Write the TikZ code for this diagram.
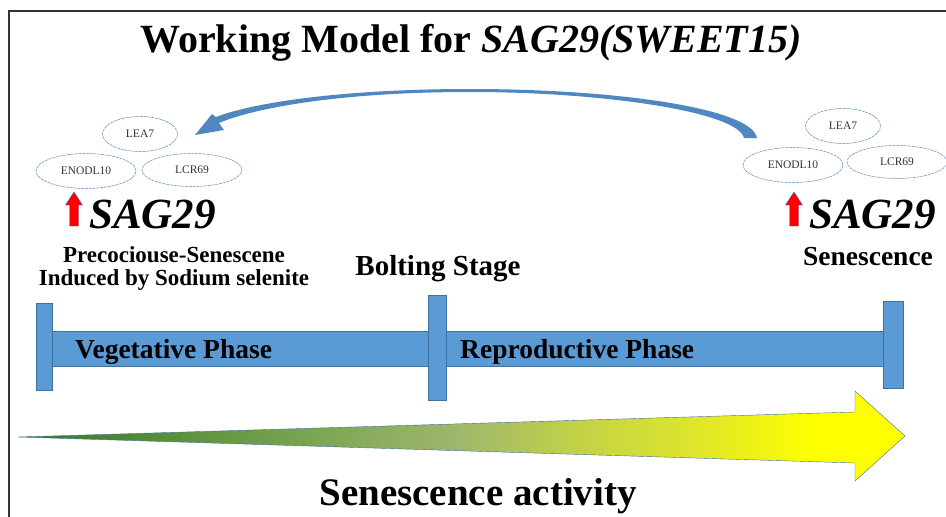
\documentclass[tikz,border=0pt]{standalone}
\usepackage{fontspec}
\setmainfont{Liberation Serif}
\usetikzlibrary{positioning,arrows.meta,shapes.geometric}
\definecolor{Bar}{HTML}{5B9BD5}
\definecolor{BarEdge}{HTML}{41719C}
\definecolor{Ring}{HTML}{5B87B9}
\definecolor{Curve}{HTML}{4F87C1}
\definecolor{Frame}{HTML}{333333}
\definecolor{Leaf}{HTML}{3A7A26}
\definecolor{Moss}{HTML}{78A450}
\definecolor{Olive}{HTML}{A0B86C}
\definecolor{Lime}{HTML}{C4D444}
\definecolor{Citron}{HTML}{DDE52C}
\definecolor{Sun}{HTML}{FFFF00}
\pgfdeclarehorizontalshading{ripen}{100bp}{color(0bp)=(Leaf); color(26bp)=(Leaf); color(41bp)=(Moss); color(50bp)=(Olive); color(57bp)=(Lime); color(63bp)=(Citron); color(70bp)=(Sun); color(100bp)=(Sun)}

\begin{document}
\begin{tikzpicture}[x=1pt,y=-1pt, every node/.style={font=\bfseries}]
\tikzstyle{gene}=[ellipse,draw=Ring,line width=.5pt,dash pattern=on 3pt off .8pt,minimum height=35pt,inner sep=0pt,font=\fontsize{11.5}{13}\selectfont,text=black!80]
\tikzstyle{tick}=[rectangle,fill=Bar,draw=BarEdge,line width=.4pt,inner sep=0pt]
\tikzstyle{label}=[anchor=base,inner sep=0pt]
\useasboundingbox (0,0) rectangle (946,517);
\draw[Frame,line width=1.2pt] (9,517) -- (9,11) -- (946,11);
\node[label,font=\fontsize{40}{48}\selectfont\bfseries] (title) at (471,52) {Working Model for \textit{SAG29(SWEET15)}};
% gene clusters
\node[gene,minimum width=75pt] (leaL) at (140,134) {LEA7};
\node[gene,minimum width=100pt] (enoL) at (86,171) {ENODL10};
\node[gene,minimum width=100pt,minimum height=33pt] (lcrL) at (192,170) {LCR69};
\node[gene,minimum width=75pt] (leaR) at (843,126) {LEA7};
\node[gene,minimum width=100pt] (enoR) at (793,165) {ENODL10};
\node[gene,minimum width=100pt,minimum height=33pt] (lcrR) at (897,162) {LCR69};
% feedback arrow
\fill[Curve] (757,138) .. controls (752,108) and (615,89) .. (470,89) .. controls (340,89) and (252,103) .. (216,117) -- (212,114) -- (195,135) -- (224,130) -- (219,123) .. controls (254,108) and (340,92) .. (470,92) .. controls (605,92) and (738,112) .. (744,138) -- cycle;
% up arrows
\foreach \ax in {74,794}
  \filldraw[fill=red,draw=BarEdge,line width=.4pt] (\ax-4.5,226) -- (\ax-4.5,205) -- (\ax-8.5,205) -- (\ax,192) -- (\ax+8.5,205) -- (\ax+4.5,205) -- (\ax+4.5,226) -- cycle;
\node[anchor=base west,inner sep=0pt,font=\fontsize{43}{50}\selectfont\bfseries\itshape] (sagL) at (89,228) {SAG29};
\node[anchor=base west,inner sep=0pt,font=\fontsize{43}{50}\selectfont\bfseries\itshape] (sagR) at (809,228) {SAG29};
\node[label,font=\fontsize{23}{23}\selectfont\bfseries] (precoc) at (174,262) {Precociouse-Senescene};
\node[label,font=\fontsize{23}{23}\selectfont\bfseries] (induced) at (174,285) {Induced by Sodium selenite};
\node[label,font=\fontsize{29}{30}\selectfont\bfseries] (bolting) at (438,275) {Bolting Stage};
\node[label,font=\fontsize{27.5}{30}\selectfont\bfseries] (senes) at (868,265) {Senescence};
% time line
\fill[Bar,draw=BarEdge,line width=.4pt] (44,331) rectangle (893,366);
\node[tick,minimum width=16pt,minimum height=87pt] (tickL) at (44,346.5) {};
\node[tick,minimum width=18pt,minimum height=105pt] (tickM) at (437,347.5) {};
\node[tick,minimum width=20pt,minimum height=87pt] (tickR) at (893,344.5) {};
\node[anchor=base west,inner sep=0pt,font=\fontsize{27.5}{30}\selectfont\bfseries] (veg) at (75,358) {Vegetative Phase};
\node[anchor=base west,inner sep=0pt,font=\fontsize{27.5}{30}\selectfont\bfseries] (repro) at (460,358) {Reproductive Phase};
% activity arrow
\shade[shading=ripen,draw=BarEdge,line width=.4pt] (18,437) -- (855,412) -- (855,391) -- (905,436) -- (855,481) -- (855,463) -- cycle;
\node[label,font=\fontsize{39}{40}\selectfont\bfseries] (activity) at (478,505) {Senescence activity};
\end{tikzpicture}
\end{document}
